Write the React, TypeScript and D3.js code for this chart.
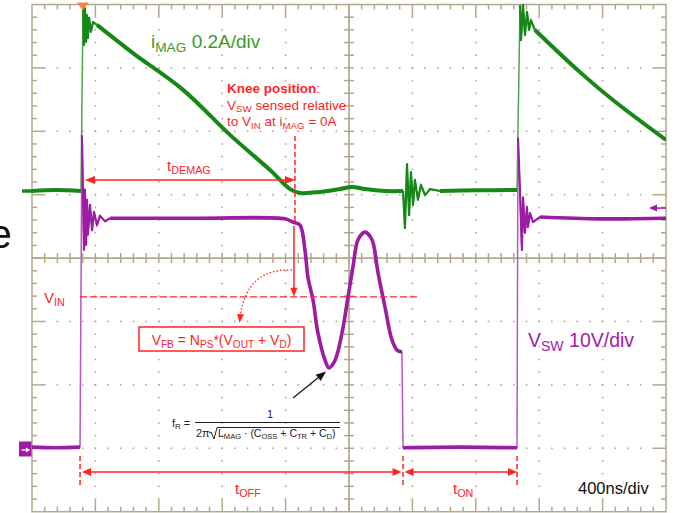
import React, { useEffect, useRef } from 'react';
import * as d3 from 'd3';

// time in ns (400 ns/div), magnetising current in A (0.2 A/div)
const imagPre: [number, number][] = [[0, 0], [150, 0.003], [309, 0]];
const imagSpike1: [number, number][] = [[322, 0.587], [328, 0.461], [334, 0.577], [341, 0.47], [347, 0.555], [353, 0.483], [360, 0.546], [372, 0.502], [385, 0.533], [410, 0.524]];
const imagRamp1: [number, number][] = [[410, 0.524], [637, 0.435], [953, 0.319], [1249, 0.177], [1502, 0.066], [1628, 0.006], [1691, -0.006], [1817, -0.003], [1943, 0.006], [2019, 0.013], [2101, 0.006], [2227, 0], [2341, 0]];
const imagSpike2: [number, number][] = [[2341, 0], [2353, -0.117], [2366, 0.085], [2379, -0.076], [2391, 0.06], [2404, -0.044], [2416, 0.035], [2435, -0.028], [2454, 0.019], [2480, -0.013], [2511, 0.006], [2574, 0]];
const imagIdle: [number, number][] = [[2574, 0], [2800, 0.002], [3060, 0.003]];
const imagSpike3: [number, number][] = [[3079, 0.587], [3085, 0.476], [3098, 0.587], [3110, 0.492], [3123, 0.565], [3136, 0.508], [3148, 0.539], [3173, 0.508]];
const imagRamp2: [number, number][] = [[3173, 0.508], [3457, 0.375], [3665, 0.287], [4000, 0.161]];

// switch node voltage in V (10 V/div)
const vswPre: [number, number][] = [[0, 0.3], [150, 0.2], [303, 0.3]];
const vswSpike1: [number, number][] = [[315, 49.5], [328, 31.4], [334, 40.9], [341, 32.2], [347, 39.3], [353, 33.8], [366, 38.5], [379, 34.5], [391, 37.4], [410, 35.3], [429, 36.8], [461, 35.9], [492, 36.4]];
const vswRing: [number, number][] = [[492, 36.4], [1060, 36.4], [1596, 36.3], [1646, 35.8], [1691, 35.3], [1722, 31.4], [1741, 27.1], [1773, 23.5], [1804, 18.3], [1849, 14.0], [1874, 12.8], [1912, 14.0], [1956, 18.3], [1994, 24.0], [2025, 28.7], [2057, 33.0], [2101, 34.2], [2145, 33.0], [2183, 27.8], [2227, 22.4], [2271, 17.2], [2303, 15.6], [2334, 15.3]];
const vswOn: [number, number][] = [[2341, 0.2], [2700, 0.3], [3060, 0.2]];
const vswSpike2: [number, number][] = [[3066, 49.1], [3079, 40.4], [3091, 31.4], [3098, 39.7], [3110, 34.1], [3123, 38.2], [3129, 35.0], [3142, 37.2], [3161, 35.8], [3205, 36.6]];
const vswPlateau: [number, number][] = [[3205, 36.6], [3584, 36.3], [4000, 36.4]];

// annotation values
const vin = 24; // V
const tOffStart = 303;
const tKnee = 1659;
const tOnStart = 2341;
const tOnEnd = 3060;
const tDemagStart = 334;
const triggerTime = 320;
const triggerLevel = 38;

const FONT = '"Liberation Sans", Arial, sans-serif';
const RED = '#ff2424';

type Part = { t: string; sub?: boolean; bold?: boolean };

function rich(g: any, x: number, y: number, parts: Part[], size: number, color: string, anchor = 'start') {
  const text = g.append('text')
    .attr('x', x).attr('y', y)
    .attr('font-size', size)
    .attr('fill', color)
    .attr('font-family', FONT)
    .attr('text-anchor', anchor)
    .style('white-space', 'pre');
  let down = false;
  parts.forEach((p) => {
    const s = text.append('tspan').text(p.t);
    if (p.bold) s.attr('font-weight', 'bold');
    if (p.sub) {
      s.attr('font-size', size * 0.72);
      if (!down) { s.attr('dy', size * 0.22); down = true; }
    } else if (down) {
      s.attr('dy', -size * 0.22);
      down = false;
    }
  });
  return text;
}

function head(g: any, tx: number, ty: number, angle: number, color: string, len = 10, half = 4) {
  const a = (angle * Math.PI) / 180;
  const bx = tx - len * Math.cos(a);
  const by = ty - len * Math.sin(a);
  const px = -Math.sin(a) * half;
  const py = Math.cos(a) * half;
  g.append('polygon')
    .attr('points', `${tx},${ty} ${bx + px},${by + py} ${bx - px},${by - py}`)
    .attr('fill', color);
}

export default function App() {
  const ref = useRef<SVGSVGElement | null>(null);

  useEffect(() => {
    const svg = d3.select(ref.current);
    svg.selectAll('*').remove();

    const X0 = 32;
    const Y0 = 4.5;
    const DIV = 63.4;
    const X1 = X0 + 10 * DIV;
    const Y1 = Y0 + 8 * DIV;
    const SUB = DIV / 5;
    const CX = X0 + 5 * DIV;
    const CY = Y0 + 4 * DIV;
    const gridColor = '#b3a98f';

    const x = d3.scaleLinear().domain([0, 4000]).range([X0, X1]);
    const yI = d3.scaleLinear().domain([0, 0.2]).range([191, 191 - DIV]);
    const yV = d3.scaleLinear().domain([0, 10]).range([449, 449 - DIV]);

    svg.append('rect').attr('width', 675).attr('height', 513).attr('fill', '#fff');

    // stray letter from surrounding page
    svg.append('text').attr('x', -10.5).attr('y', 248).attr('font-size', 40)
      .attr('font-family', FONT).attr('fill', '#111').text('e');

    // grid
    const grid = svg.append('g');
    for (let k = 1; k < 10; k++) {
      if (k === 5) continue;
      for (let j = 1; j < 40; j++) {
        grid.append('rect').attr('x', X0 + k * DIV - 0.8).attr('y', Y0 + j * SUB - 0.8)
          .attr('width', 1.6).attr('height', 1.6).attr('fill', '#b0a996');
      }
    }
    for (let k = 1; k < 8; k++) {
      if (k === 4) continue;
      for (let j = 1; j < 50; j++) {
        grid.append('rect').attr('x', X0 + j * SUB - 0.8).attr('y', Y0 + k * DIV - 0.8)
          .attr('width', 1.6).attr('height', 1.6).attr('fill', '#b0a996');
      }
    }
    grid.append('rect').attr('x', X0).attr('y', Y0).attr('width', X1 - X0).attr('height', Y1 - Y0)
      .attr('fill', 'none').attr('stroke', gridColor).attr('stroke-width', 1.5);
    grid.append('line').attr('x1', X0).attr('x2', X1).attr('y1', CY).attr('y2', CY)
      .attr('stroke', gridColor).attr('stroke-width', 1.7);
    grid.append('line').attr('x1', CX).attr('x2', CX).attr('y1', Y0).attr('y2', Y1)
      .attr('stroke', gridColor).attr('stroke-width', 1.7);
    for (let i = 1; i < 50; i++) {
      const px = X0 + i * SUB;
      const len = i % 5 === 0 ? 12 : 5;
      grid.append('line').attr('x1', px).attr('x2', px).attr('y1', Y0).attr('y2', Y0 + len)
        .attr('stroke', gridColor).attr('stroke-width', 1.5);
      grid.append('line').attr('x1', px).attr('x2', px).attr('y1', Y1).attr('y2', Y1 - len)
        .attr('stroke', gridColor).attr('stroke-width', 1.5);
      grid.append('line').attr('x1', px).attr('x2', px).attr('y1', CY - 5).attr('y2', CY + 5)
        .attr('stroke', gridColor).attr('stroke-width', 1.5);
    }
    for (let i = 1; i < 40; i++) {
      const py = Y0 + i * SUB;
      const len = i % 5 === 0 ? 12 : 5;
      grid.append('line').attr('x1', X0).attr('x2', X0 + len).attr('y1', py).attr('y2', py)
        .attr('stroke', gridColor).attr('stroke-width', 1.5);
      grid.append('line').attr('x1', X1).attr('x2', X1 - len).attr('y1', py).attr('y2', py)
        .attr('stroke', gridColor).attr('stroke-width', 1.5);
      grid.append('line').attr('x1', CX - 5).attr('x2', CX + 5).attr('y1', py).attr('y2', py)
        .attr('stroke', gridColor).attr('stroke-width', 1.5);
    }

    // traces
    svg.append('clipPath').attr('id', 'scope').append('rect')
      .attr('x', X0).attr('y', Y0 - 1).attr('width', X1 - X0).attr('height', Y1 - Y0 + 1);
    const traces = svg.append('g').attr('clip-path', 'url(#scope)');

    const lineI = d3.line<[number, number]>().x((d) => x(d[0])).y((d) => yI(d[1]));
    const lineV = d3.line<[number, number]>().x((d) => x(d[0])).y((d) => yV(d[1]));
    const smoothI = d3.line<[number, number]>().x((d) => x(d[0])).y((d) => yI(d[1])).curve(d3.curveCatmullRom);
    const smoothV = d3.line<[number, number]>().x((d) => x(d[0])).y((d) => yV(d[1])).curve(d3.curveCatmullRom);

    const imagAll = [...imagPre, ...imagSpike1, ...imagRamp1, ...imagSpike2, ...imagIdle, ...imagSpike3, ...imagRamp2];
    traces.append('path').attr('d', lineI(imagAll)).attr('fill', 'none')
      .attr('stroke', '#4fa54a').attr('stroke-width', 1.5);
    [imagSpike1, imagSpike2, imagSpike3].forEach((s) => {
      traces.append('path').attr('d', lineI(s)).attr('fill', 'none')
        .attr('stroke', '#178817').attr('stroke-width', 2.2).attr('stroke-linejoin', 'round');
    });
    [imagPre, imagRamp1, imagIdle, imagRamp2].forEach((s) => {
      traces.append('path').attr('d', smoothI(s)).attr('fill', 'none')
        .attr('stroke', '#178817').attr('stroke-width', 4).attr('stroke-linejoin', 'round');
    });

    const vswAll = [...vswPre, ...vswSpike1, ...vswRing, ...vswOn, ...vswSpike2, ...vswPlateau];
    traces.append('path').attr('d', lineV(vswAll)).attr('fill', 'none')
      .attr('stroke', '#b35abf').attr('stroke-width', 1.5);
    [vswSpike1, vswSpike2].forEach((s) => {
      traces.append('path').attr('d', lineV(s)).attr('fill', 'none')
        .attr('stroke', '#9c1ca3').attr('stroke-width', 2.2).attr('stroke-linejoin', 'round');
    });
    [vswPre, vswRing, vswOn, vswPlateau].forEach((s) => {
      traces.append('path').attr('d', smoothV(s)).attr('fill', 'none')
        .attr('stroke', '#9c1ca3').attr('stroke-width', 3.6).attr('stroke-linejoin', 'round');
    });

    // scope markers
    svg.append('line').attr('x1', 22).attr('x2', X0).attr('y1', yI(0)).attr('y2', yI(0))
      .attr('stroke', '#178817').attr('stroke-width', 3.5);
    svg.append('rect').attr('x', 19).attr('y', yV(0) - 7.5).attr('width', 12.5).attr('height', 15)
      .attr('fill', '#9c1ca3');
    svg.append('line').attr('x1', 21.5).attr('x2', 27).attr('y1', yV(0) + 1).attr('y2', yV(0) + 1)
      .attr('stroke', '#fff').attr('stroke-width', 1.3);
    head(svg, 30, yV(0) + 1, 0, '#fff', 4, 2.5);
    svg.append('line').attr('x1', 656).attr('x2', X1).attr('y1', yV(triggerLevel)).attr('y2', yV(triggerLevel))
      .attr('stroke', '#9c1ca3').attr('stroke-width', 1.5);
    head(svg, 649, yV(triggerLevel), 180, '#9c1ca3', 8, 3.5);
    svg.append('polygon')
      .attr('points', `${x(triggerTime) - 6},${Y0 - 2} ${x(triggerTime) + 6},${Y0 - 2} ${x(triggerTime)},${Y0 + 6}`)
      .attr('fill', '#f7863c');

    // channel labels
    rich(svg, 151, 48, [{ t: 'i' }, { t: 'MAG', sub: true }, { t: ' 0.2A/div' }], 19, '#3f9a2a');
    rich(svg, 528, 347, [{ t: 'V' }, { t: 'SW', sub: true }, { t: ' 10V/div' }], 19.5, '#a222a6');
    rich(svg, 578, 494, [{ t: '400ns/div' }], 16.5, '#111');

    // knee annotation
    const ann = svg.append('g');
    rich(ann, 227, 93, [{ t: 'Knee position', bold: true }, { t: ':' }], 13.5, RED);
    rich(ann, 227, 109.5, [{ t: 'V' }, { t: 'SW', sub: true }, { t: ' sensed relative' }], 13.5, RED);
    rich(ann, 227, 126, [{ t: 'to V' }, { t: 'IN', sub: true }, { t: ' at i' }, { t: 'MAG', sub: true }, { t: ' = 0A' }], 13.5, RED);

    // tDEMAG
    ann.append('line').attr('x1', x(tDemagStart) + 2).attr('x2', x(tKnee) - 2).attr('y1', 180).attr('y2', 180)
      .attr('stroke', RED).attr('stroke-width', 1.5);
    head(ann, x(tDemagStart), 180, 180, RED, 10, 4);
    head(ann, x(tKnee), 180, 0, RED, 10, 4);
    rich(ann, 167, 171, [{ t: 't' }, { t: 'DEMAG', sub: true }], 15, RED);
    ann.append('line').attr('x1', x(tKnee)).attr('x2', x(tKnee)).attr('y1', 136).attr('y2', 222)
      .attr('stroke', RED).attr('stroke-width', 1.5).attr('stroke-dasharray', '5,3');

    // delta V arrow to VIN
    ann.append('line').attr('x1', x(tKnee) - 1).attr('x2', x(tKnee) - 1).attr('y1', 226).attr('y2', yV(vin) - 6)
      .attr('stroke', RED).attr('stroke-width', 1.5);
    head(ann, x(tKnee) - 1, yV(vin), 90, RED, 9, 3.5);

    // VIN line
    ann.append('line').attr('x1', x(tOffStart)).attr('x2', 420).attr('y1', yV(vin)).attr('y2', yV(vin))
      .attr('stroke', RED).attr('stroke-width', 1.2).attr('stroke-dasharray', '7,3');
    rich(ann, 44, 303, [{ t: 'V' }, { t: 'IN', sub: true }], 15, RED);

    // dotted curve to VFB box
    ann.append('path').attr('d', 'M 292 270 Q 248 268 240.5 314').attr('fill', 'none')
      .attr('stroke', RED).attr('stroke-width', 1.3).attr('stroke-dasharray', '1.5,2');
    head(ann, 239.5, 323, 97, RED, 9, 3.5);
    ann.append('rect').attr('x', 139).attr('y', 327).attr('width', 165).attr('height', 24)
      .attr('fill', '#fff').attr('stroke', RED).attr('stroke-width', 1.5);
    rich(ann, 221.5, 345, [
      { t: 'V' }, { t: 'FB', sub: true }, { t: ' = N' }, { t: 'PS', sub: true },
      { t: '*(V' }, { t: 'OUT', sub: true }, { t: ' + V' }, { t: 'D', sub: true }, { t: ')' },
    ], 14, RED, 'middle');

    // resonance formula
    ann.append('line').attr('x1', 293).attr('y1', 398).attr('x2', 319).attr('y2', 377)
      .attr('stroke', '#111').attr('stroke-width', 1.2);
    head(ann, 326, 371.5, -39, '#111', 10, 4);
    rich(ann, 172, 427, [{ t: 'f' }, { t: 'R', sub: true }, { t: ' =' }], 11, '#222');
    ann.append('line').attr('x1', 195).attr('x2', 340).attr('y1', 422.5).attr('y2', 422.5)
      .attr('stroke', '#222').attr('stroke-width', 1.2);
    rich(ann, 267, 418, [{ t: '1' }], 11, '#222');
    rich(ann, 196, 437, [{ t: '2π' }], 11, '#222');
    ann.append('path').attr('d', 'M 209 433 L 211 432 L 214 439 L 217 427.5 L 340 427.5')
      .attr('fill', 'none').attr('stroke', '#222').attr('stroke-width', 1);
    rich(ann, 218, 437, [
      { t: 'L' }, { t: 'MAG', sub: true }, { t: ' · (C' }, { t: 'OSS', sub: true },
      { t: ' + C' }, { t: 'TR', sub: true }, { t: ' + C' }, { t: 'D', sub: true }, { t: ')' },
    ], 10.5, '#222');

    // tOFF / tON
    [tOffStart, tOnStart, tOnEnd].forEach((t) => {
      ann.append('line').attr('x1', x(t)).attr('x2', x(t)).attr('y1', 456).attr('y2', 488)
        .attr('stroke', RED).attr('stroke-width', 1.5).attr('stroke-dasharray', '5,3');
    });
    const yArrow = 472;
    ann.append('line').attr('x1', x(tOffStart) + 4).attr('x2', x(tOnStart) - 4).attr('y1', yArrow).attr('y2', yArrow)
      .attr('stroke', RED).attr('stroke-width', 1.5);
    head(ann, x(tOffStart) + 2, yArrow, 180, RED, 9, 4);
    head(ann, x(tOnStart) - 1.5, yArrow, 0, RED, 9, 4);
    ann.append('line').attr('x1', x(tOnStart) + 4).attr('x2', x(tOnEnd) - 4).attr('y1', yArrow).attr('y2', yArrow)
      .attr('stroke', RED).attr('stroke-width', 1.5);
    head(ann, x(tOnStart) + 1.5, yArrow, 180, RED, 9, 4);
    head(ann, x(tOnEnd), yArrow, 0, RED, 9, 4);
    rich(ann, 235, 494, [{ t: 't' }, { t: 'OFF', sub: true }], 15, RED);
    rich(ann, 453, 494, [{ t: 't' }, { t: 'ON', sub: true }], 15, RED);
  }, []);

  return (
    <svg
      ref={ref}
      width={675}
      height={513}
      style={{ position: 'absolute', left: 0, top: 0, background: '#fff' }}
    />
  );
}
